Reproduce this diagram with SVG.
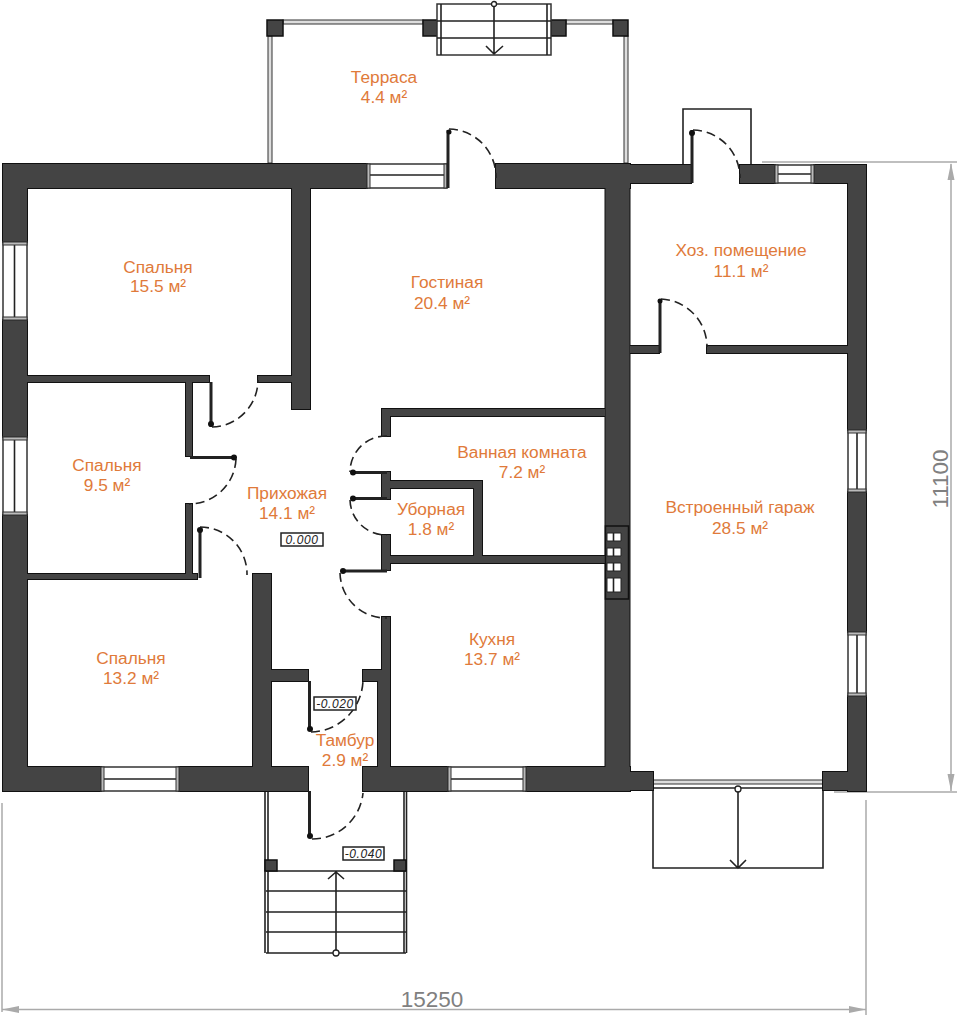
<svg xmlns="http://www.w3.org/2000/svg" xmlns:xlink="http://www.w3.org/1999/xlink" width="960" height="1019" viewBox="0 0 960 1019">
<style>
text{font-family:"Liberation Sans",Arial,sans-serif}
.lb text{font-size:17.300px;fill:#e07a3a;text-anchor:middle}
.ln{stroke:#222;stroke-width:1.600;fill:none}
.leaf{stroke:#222;stroke-width:3;fill:none}
.arc{stroke:#222;stroke-width:1.600;fill:none;stroke-dasharray:9 5}
.post{fill:#444;stroke:#111;stroke-width:1.500}
.win{fill:#fff;stroke:#333;stroke-width:1.500}
.cap{fill:#bbb;stroke:#333;stroke-width:1}
.rail{fill:#ddd;stroke:#333;stroke-width:1}
.dim{stroke:#aaa;stroke-width:1.500;fill:none}
.dimh{fill:#aaa}
.dt{font-size:22.500px;fill:#808080;text-anchor:middle}
.lv{fill:#fff;stroke:#222;stroke-width:1.500}
.lt{font-size:12px;font-style:italic;fill:#222;text-anchor:middle;letter-spacing:.6px}
</style>
<defs>
<g id="w">
<rect x="3" y="164" width="364" height="24"/><rect x="496" y="164" width="134" height="24"/>
<rect x="3" y="164" width="24" height="78"/><rect x="3" y="320" width="24" height="117"/><rect x="3" y="515" width="24" height="276"/>
<rect x="3" y="767" width="98" height="24"/><rect x="179" y="767" width="129" height="24"/><rect x="363" y="767" width="85" height="24"/><rect x="526" y="767" width="104" height="24"/>
<rect x="605.500" y="164" width="24" height="627"/>
<rect x="630" y="165" width="61" height="18"/><rect x="740" y="165" width="35" height="18"/><rect x="814" y="165" width="52" height="18"/>
<rect x="848" y="165" width="18" height="265"/><rect x="848" y="492" width="18" height="140"/><rect x="848" y="696" width="18" height="95"/>
<rect x="630" y="772" width="23" height="18"/><rect x="823" y="772" width="43" height="18"/>
<rect x="630" y="346" width="29" height="7"/><rect x="707" y="346" width="141" height="7"/>
<rect x="292" y="188" width="18" height="221"/>
<rect x="27" y="376" width="182" height="6"/><rect x="258" y="376" width="34" height="6"/>
<rect x="186" y="376" width="6" height="80"/><rect x="186" y="504" width="6" height="71"/>
<rect x="27" y="574" width="170" height="5"/>
<rect x="253" y="574" width="18" height="193"/>
<rect x="271" y="670" width="37" height="11"/><rect x="363" y="670" width="27" height="11"/>
<rect x="378" y="670" width="12" height="97"/><rect x="382" y="617" width="8" height="53"/>
<rect x="382" y="409" width="223" height="7"/><rect x="382" y="409" width="8" height="27"/>
<rect x="382" y="472" width="8" height="27"/><rect x="390" y="481" width="92" height="7"/>
<rect x="474" y="481" width="8" height="75"/><rect x="382" y="556" width="223" height="7"/>
<rect x="382" y="535" width="8" height="35"/>
</g>
</defs>
<rect width="960" height="1019" fill="#fff"/>

<g id="dimensions">
<path class="dim" d="M762 162H957M834 792H957M951 164V791M2 803V1012M866 800V1015M2 1009.500H866"/>
<path class="dimh" d="M951 163l-3.500 17h7zM951 791l-3.500-17h7zM2 1009.500l17-3.500v7zM866 1009.500l-17-3.500v7z"/>
<text class="dt" transform="translate(948 479) rotate(-90)">11100</text>
<text class="dt" x="432" y="1007">15250</text>
</g>

<g id="terrace">
<rect class="rail" x="283" y="20" width="140" height="4"/><rect class="rail" x="566" y="20" width="47" height="4"/>
<rect class="rail" x="268" y="36" width="4" height="127"/><rect class="rail" x="624" y="36" width="4" height="127"/>
<rect class="post" x="267" y="20" width="16" height="16"/><rect class="post" x="423" y="20" width="15" height="16"/><rect class="post" x="551" y="20" width="15" height="16"/><rect class="post" x="613" y="20" width="15" height="16"/>
<rect class="win" x="437" y="4" width="114" height="51"/>
<path class="ln" d="M441 4V55M547 4V55M437 21H551M437 38H551M494 4V54M486 46L494 54L503 46"/>
<circle cx="494" cy="4" r="2.500" fill="#fff" stroke="#222" stroke-width="1.300"/>
</g>

<g id="vestibule-garage"><path class="ln" d="M683 165V109H751V165"/></g>

<g id="porch">
<path class="ln" d="M265 792V953M268 792V953M404 792V953M406.500 792V953M266 871H406M266 891H406M266 912H406M266 932H406M266 953H406M336 953V872M328 879L336 872L344 879"/>
<circle cx="336" cy="953" r="3" fill="#fff" stroke="#222" stroke-width="1.300"/>
<rect class="post" x="265" y="860" width="12" height="11"/><rect class="post" x="394" y="860" width="12" height="11"/>
</g>

<g id="gate">
<path class="ln" d="M653 788V868H823V788M738 789V867M730 860L738 868L746 860"/>
<rect class="rail" x="653" y="780" width="170" height="4"/>
<path class="ln" d="M653 788H823"/>
<circle cx="738" cy="789" r="3" fill="#fff" stroke="#222" stroke-width="1.300"/>
</g>

<g id="walls">
<use href="#w" fill="#111" stroke="#111" stroke-width="2"/>
<use href="#w" fill="#444"/>
</g>

<g id="windows">
<rect class="win" x="3" y="242" width="24" height="78"/><path class="ln" d="M14.500 242V320"/><rect class="cap" x="3" y="242" width="24" height="3"/><rect class="cap" x="3" y="317" width="24" height="3"/>
<rect class="win" x="3" y="437" width="24" height="78"/><path class="ln" d="M14.500 437V515"/><rect class="cap" x="3" y="437" width="24" height="3"/><rect class="cap" x="3" y="512" width="24" height="3"/>
<rect class="win" x="367" y="164" width="80" height="24"/><path class="ln" d="M367 175H447"/><rect class="cap" x="367" y="164" width="3" height="24"/><rect class="cap" x="444" y="164" width="3" height="24"/>
<rect class="win" x="101" y="767" width="78" height="24"/><path class="ln" d="M101 779H179"/><rect class="cap" x="101" y="767" width="3" height="24"/><rect class="cap" x="176" y="767" width="3" height="24"/>
<rect class="win" x="448" y="767" width="78" height="24"/><path class="ln" d="M448 779H526"/><rect class="cap" x="448" y="767" width="3" height="24"/><rect class="cap" x="523" y="767" width="3" height="24"/>
<rect class="win" x="775" y="165" width="39" height="18"/><path class="ln" d="M775 174H814"/><rect class="cap" x="775" y="165" width="3" height="18"/><rect class="cap" x="811" y="165" width="3" height="18"/>
<rect class="win" x="848" y="430" width="18" height="62"/><path class="ln" d="M857 430V492"/><rect class="cap" x="848" y="430" width="18" height="3"/><rect class="cap" x="848" y="489" width="18" height="3"/>
<rect class="win" x="848" y="632" width="18" height="64"/><path class="ln" d="M857 632V696"/><rect class="cap" x="848" y="632" width="18" height="3"/><rect class="cap" x="848" y="693" width="18" height="3"/>
</g>

<g id="chimney">
<rect x="605.500" y="526" width="23" height="73" fill="#444" stroke="#111" stroke-width="1.500"/>
<path d="M607 533h14v8h-14zM607 548h14v8h-14zM607 563h14v8h-14zM607 578h14v14h-14z" fill="#fff" stroke="#222"/>
<path class="ln" d="M613.500 533v8M613.500 548v8M613.500 563v8M613.500 578v14" stroke-width="1"/>
</g>

<g id="doors">
<path class="leaf" d="M448 188V130M692 183V130M660 353V299M211 382V427M190 457.500H236M200 578V528M387 472.500H352M387 498.500H352M387 571H342M309.500 681V731M309.500 791V838"/>
<path class="arc" d="M449 129A48 48 0 0 1 496 178M693 130A48 48 0 0 1 740 178M661 299A48 48 0 0 1 707 347M212 427A47 47 0 0 0 258 380M236 459A47 47 0 0 1 189 504M200 527A47 47 0 0 1 247 575M387 436A36 36 0 0 0 350 472M350 500A36 36 0 0 0 387 535M340 573A46 46 0 0 0 387 618M311 732A53 53 0 0 0 363 680M312 839A51 51 0 0 0 363 793"/>
<g fill="#111"><circle cx="449" cy="132" r="2.500"/><circle cx="692" cy="133" r="3"/><circle cx="660" cy="301" r="2.500"/><circle cx="211" cy="424" r="3"/><circle cx="234" cy="457.500" r="3"/><circle cx="200" cy="530" r="3"/><circle cx="353" cy="472.500" r="3"/><circle cx="353" cy="498.500" r="3"/><circle cx="343" cy="571" r="3"/><circle cx="310" cy="729" r="3"/><circle cx="310" cy="836" r="3"/></g>
</g>

<g id="levels">
<rect class="lv" x="281" y="533" width="42" height="13"/><text class="lt" x="302" y="544">0.000</text>
<rect class="lv" x="314" y="697" width="42" height="13"/><text class="lt" x="335" y="708">-0.020</text>
<rect class="lv" x="343" y="847" width="41" height="13"/><text class="lt" x="363.500" y="858">-0.040</text>
</g>

<g id="labels" class="lb">
<g id="room-terrace"><text x="384" y="83">Терраса</text><text x="384" y="103">4.4 м²</text></g>
<g id="room-bed1"><text x="158" y="273">Спальня</text><text x="158" y="292">15.5 м²</text></g>
<g id="room-living"><text x="447" y="288">Гостиная</text><text x="442" y="309">20.4 м²</text></g>
<g id="room-utility"><text x="741" y="256">Хоз. помещение</text><text x="741" y="277">11.1 м²</text></g>
<g id="room-bed2"><text x="107" y="471">Спальня</text><text x="107" y="491">9.5 м²</text></g>
<g id="room-hall"><text x="287" y="499">Прихожая</text><text x="287" y="519">14.1 м²</text></g>
<g id="room-bath"><text x="522" y="458">Ванная комната</text><text x="522" y="478">7.2 м²</text></g>
<g id="room-wc"><text x="431" y="515">Уборная</text><text x="431" y="535">1.8 м²</text></g>
<g id="room-garage"><text x="740" y="513">Встроенный гараж</text><text x="740" y="534">28.5 м²</text></g>
<g id="room-kitchen"><text x="492" y="645">Кухня</text><text x="492" y="665">13.7 м²</text></g>
<g id="room-bed3"><text x="131" y="664">Спальня</text><text x="131" y="684">13.2 м²</text></g>
<g id="room-tambour"><text x="345" y="746">Тамбур</text><text x="345" y="766">2.9 м²</text></g>
</g>
</svg>
